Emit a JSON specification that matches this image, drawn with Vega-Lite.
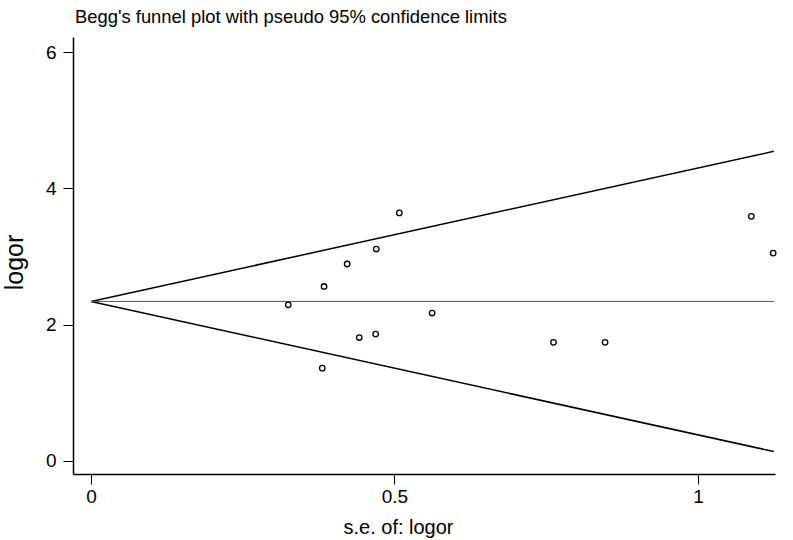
{
  "$schema": "https://vega.github.io/schema/vega-lite/v6.json",
  "autosize": "none",
  "width": 702,
  "height": 437,
  "padding": {"left": 73, "top": 37, "right": 18, "bottom": 66},
  "background": "white",
  "config": {
    "view": {"stroke": null},
    "font": "Liberation Sans",
    "axis": {
      "grid": false,
      "domainColor": "black",
      "domainWidth": 1.5,
      "tickColor": "black",
      "tickWidth": 1,
      "tickSize": 10,
      "labelFont": "Liberation Sans",
      "labelFontSize": 19,
      "labelColor": "black",
      "titleFont": "Liberation Sans",
      "titleFontSize": 20,
      "titleFontWeight": "normal",
      "titleColor": "black"
    }
  },
  "title": {
    "text": "Begg's funnel plot with pseudo 95% confidence limits",
    "anchor": "start",
    "frame": "group",
    "font": "Liberation Sans",
    "fontSize": 18.4,
    "fontWeight": "normal",
    "color": "black",
    "offset": 11,
    "dx": 2
  },
  "datasets": {
    "studies": [
      {"se": 0.508, "logor": 3.64},
      {"se": 0.470, "logor": 3.11},
      {"se": 0.422, "logor": 2.89},
      {"se": 0.384, "logor": 2.56},
      {"se": 0.325, "logor": 2.29},
      {"se": 0.562, "logor": 2.17},
      {"se": 0.469, "logor": 1.86},
      {"se": 0.442, "logor": 1.81},
      {"se": 0.381, "logor": 1.36},
      {"se": 1.088, "logor": 3.59},
      {"se": 1.124, "logor": 3.05},
      {"se": 0.762, "logor": 1.74},
      {"se": 0.847, "logor": 1.74}
    ],
    "funnel": [
      {"se": 0, "upper": 2.34, "lower": 2.34, "center": 2.34},
      {"se": 1.125, "upper": 4.545, "lower": 0.135, "center": 2.34}
    ]
  },
  "layer": [
    {
      "data": {"name": "funnel"},
      "mark": {"type": "line", "color": "black", "strokeWidth": 1.5, "clip": true},
      "encoding": {
        "x": {"field": "se", "type": "quantitative", "scale": {"domain": [-0.0297, 1.127], "nice": false, "zero": false},
              "axis": {"values": [0, 0.5, 1], "format": "~g", "title": "s.e. of: logor", "labelPadding": 3,
                       "titleX": 325, "titleY": 59, "titleAlign": "center", "titleBaseline": "alphabetic"}},
        "y": {"field": "upper", "type": "quantitative", "scale": {"domain": [-0.195, 6.225], "nice": false, "zero": false},
              "axis": {"values": [0, 2, 4, 6], "format": "~g", "title": "logor", "labelPadding": 7,
                       "titleFontSize": 25, "titleX": -59, "titleY": 225, "titleAlign": "center", "titleBaseline": "middle", "titleAngle": -90}}
      }
    },
    {
      "data": {"name": "funnel"},
      "mark": {"type": "line", "color": "black", "strokeWidth": 1.5, "clip": true},
      "encoding": {
        "x": {"field": "se", "type": "quantitative"},
        "y": {"field": "lower", "type": "quantitative"}
      }
    },
    {
      "data": {"name": "funnel"},
      "mark": {"type": "line", "color": "#555555", "strokeWidth": 1, "clip": true},
      "encoding": {
        "x": {"field": "se", "type": "quantitative"},
        "y": {"field": "center", "type": "quantitative"}
      }
    },
    {
      "data": {"name": "studies"},
      "mark": {"type": "point", "shape": "circle", "filled": false, "color": "black", "strokeWidth": 1.3, "size": 30, "opacity": 1},
      "encoding": {
        "x": {"field": "se", "type": "quantitative"},
        "y": {"field": "logor", "type": "quantitative"}
      }
    }
  ]
}
